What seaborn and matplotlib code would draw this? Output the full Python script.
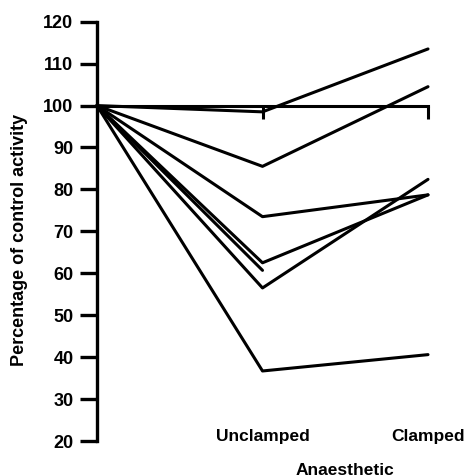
import numpy as np
import pandas as pd
import matplotlib
matplotlib.use("Agg")
import matplotlib.pyplot as plt
import seaborn as sns

# Per-preparation activity, % of control, under each anaesthetic condition
conditions = ["Control", "Unclamped", "Clamped"]
control = [100, 100, 100, 100, 100, 100, 100]
unclamped = [98.5, 85.5, 73.5, 62.5, 60.7, 56.5, 36.7]
clamped = [113.5, 104.5, 78.7, 78.7, np.nan, 82.4, 40.6]
y_ticks = [20, 30, 40, 50, 60, 70, 80, 90, 100, 110, 120]
x_tick_labels = ["Unclamped", "Clamped"]

rows = []
for i, vals in enumerate(zip(control, unclamped, clamped)):
    for pos, v in enumerate(vals):
        if not np.isnan(v):
            rows.append({"prep": i, "pos": pos, "value": v})
df = pd.DataFrame(rows)

sns.set_theme(style="white")
plt.rcParams["font.family"] = ["Liberation Sans", "DejaVu Sans"]
plt.rcParams["font.weight"] = "bold"
plt.rcParams["text.color"] = "black"
plt.rcParams["axes.labelcolor"] = "black"

fig = plt.figure(figsize=(4.65, 4.76), dpi=100)
ax = fig.add_axes([97 / 465, 1 - 441 / 476, 331 / 465, (441 - 21.7) / 476])

sns.lineplot(data=df, x="pos", y="value", units="prep", estimator=None,
             color="black", linewidth=2.2, ax=ax, clip_on=False)

ax.set_xlim(0, 2)
ax.set_ylim(20, 120)
for s in ["top", "right"]:
    ax.spines[s].set_visible(False)
ax.spines["left"].set_linewidth(2.4)
ax.spines["left"].set_bounds(20, 120)
ax.spines["left"].set_color("black")
# reference line at 100 % doubles as the condition axis
ax.spines["bottom"].set_position(("data", 100))
ax.spines["bottom"].set_bounds(0, 2)
ax.spines["bottom"].set_linewidth(2.2)
ax.spines["bottom"].set_color("black")

ax.set_yticks(y_ticks)
ax.set_yticklabels([str(t) for t in y_ticks], fontsize=13, fontweight="bold",
                   color="black")
ax.tick_params(axis="y", direction="out", length=12, width=2.4, pad=5,
               colors="black", left=True)
ax.set_xticks([1, 2])
ax.set_xticklabels(["", ""])
ax.tick_params(axis="x", direction="out", length=9, width=2.2, colors="black", bottom=True)
ax.set_xlabel("")
ax.set_ylabel("")

for x, lab in zip([1, 2], x_tick_labels):
    ax.text(x, 20, lab, ha="center", va="baseline", fontsize=12.5,
            fontweight="bold", color="black", clip_on=False)
ax.text(1.5, 12, "Anaesthetic", ha="center", va="baseline", fontsize=12.5,
        fontweight="bold", color="black", clip_on=False)
fig.text(20 / 465, 1 - 239.5 / 476, "Percentage of control activity", rotation=90,
         ha="center", va="center", fontsize=13, fontweight="bold", color="black")

fig.savefig("out.png", dpi=100, facecolor="white")
